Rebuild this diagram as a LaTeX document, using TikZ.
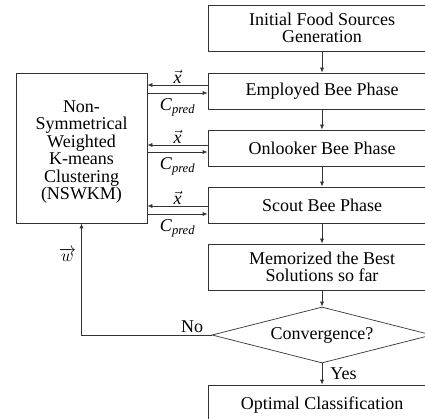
\documentclass[tikz,border=0pt]{standalone}
\usepackage{fontspec}
\setmainfont{Liberation Serif}
\usetikzlibrary{shapes.geometric,arrows.meta}
\newcommand{\vx}{$\vec{\mbox{\itshape x}}$}
\newcommand{\cpred}{\textit{C}\textsubscript{\textit{pred}}}
\begin{document}
\begin{tikzpicture}[x=1pt,y=-1pt,
  every node/.style={font=\fontsize{18}{17.5}\selectfont},
  box/.style={draw=black!80,line width=0.7pt,inner sep=0pt,align=center,minimum width=228pt},
  arr/.style={draw=black!80,line width=0.7pt,-{Latex[length=5pt,width=4pt]}},
  lbl/.style={inner sep=1pt}]
\useasboundingbox (0,0) rectangle (425,419);
\node[box,minimum height=46pt] (init) at (322,28) {Initial Food Sources\\Generation};
\node[box,minimum height=36pt] (emp) at (322,91) {Employed Bee Phase};
\node[box,minimum height=36pt] (onl) at (322,148) {Onlooker Bee Phase};
\node[box,minimum height=36pt] (sco) at (322,205) {Scout Bee Phase};
\node[box,minimum height=46pt] (mem) at (322,267) {Memorized the Best\\Solutions so far};
\node[draw=black!80,line width=0.7pt,diamond,aspect=3.9,inner sep=0pt,minimum width=220pt,minimum height=56pt] (conv) at (322,335) {Convergence?};
\node[box,minimum height=40pt] (opt) at (322,405) {Optimal Classification};
\node[draw=black!80,line width=0.7pt,minimum width=131pt,minimum height=150pt,inner sep=0pt] (nsw) at (81.5,148) {};
\node[align=center,inner sep=0pt] (nswt) at (81.5,152) {Non-\\Symmetrical\\Weighted\\K-means\\Clustering\\(NSWKM)};
\draw[arr] (init) -- (emp);
\draw[arr] (emp) -- (onl);
\draw[arr] (onl) -- (sco);
\draw[arr] (sco) -- (mem);
\draw[arr] (mem) -- (conv);
\draw[arr] (conv.south) -- node[right,lbl,xshift=7pt] {Yes} (opt);
% horizontal exchanges
\draw[arr] (emp.west |- 0,85) -- node[above,lbl] {\vx} (nsw.east |- 0,85);
\draw[arr] (nsw.east |- 0,93) -- node[below,lbl,yshift=-4pt] {\cpred} (emp.west |- 0,93);
\draw[arr] (onl.west |- 0,145) -- node[above,lbl] {\vx} (nsw.east |- 0,145);
\draw[arr] (nsw.east |- 0,152) -- node[below,lbl,yshift=-4pt] {\cpred} (onl.west |- 0,152);
\draw[arr] (sco.west |- 0,206) -- node[above,lbl] {\vx} (nsw.east |- 0,206);
\draw[arr] (nsw.east |- 0,214) -- node[below,lbl,yshift=-4pt] {\cpred} (sco.west |- 0,214);
% feedback
\coordinate (fb) at (nsw.south |- conv.west);
\draw[arr] (conv.west) -- node[above,pos=0.15,lbl,yshift=1pt] {No} (fb) -- node[left,pos=0.72,lbl,xshift=-4pt] {$\overrightarrow{w}$} (nsw.south);
\end{tikzpicture}
\end{document}
